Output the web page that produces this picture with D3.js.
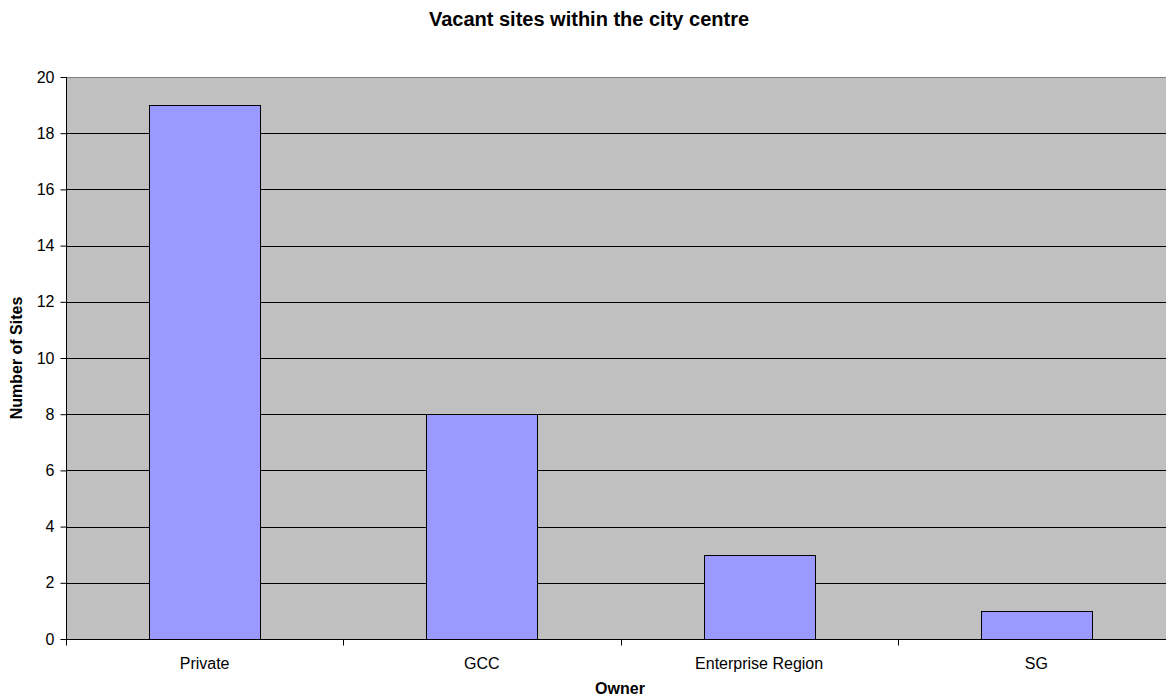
<!DOCTYPE html>
<html>
<head>
<meta charset="utf-8">
<script src="https://cdn.jsdelivr.net/npm/d3@7"></script>
<style>
  html, body { margin: 0; padding: 0; background: #fff; }
  svg { display: block; font-family: Arial, "Liberation Sans", sans-serif; }
</style>
</head>
<body>
<svg id="chart" width="1166" height="698"></svg>
<script>
// Vacant sites by owner
const owners = ["Private", "GCC", "Enterprise Region", "SG"];
const siteCounts = [19, 8, 3, 1];
const yTicks = [0, 2, 4, 6, 8, 10, 12, 14, 16, 18, 20];

const svg = d3.select("#chart");
const plot = { left: 66, right: 1175, top: 77, bottom: 639 };

const x = d3.scaleBand().domain(owners).range([plot.left, plot.right]).paddingInner(0.6).paddingOuter(0.3);
const xTickScale = d3.scaleBand().domain(owners).range([plot.left, plot.right]);
const y = d3.scaleLinear().domain([0, 20]).range([plot.bottom, plot.top]);

// Plot background
svg.append("rect")
  .attr("x", plot.left).attr("y", plot.top)
  .attr("width", plot.right - plot.left).attr("height", plot.bottom - plot.top)
  .attr("fill", "#c0c0c0");

// Top border of plot area
svg.append("line")
  .attr("x1", plot.left).attr("x2", plot.right)
  .attr("y1", plot.top + 0.5).attr("y2", plot.top + 0.5)
  .attr("stroke", "#808080");

// Horizontal gridlines
svg.append("g").selectAll("line")
  .data(yTicks.filter(d => d > 0 && d < 20))
  .join("line")
  .attr("x1", plot.left).attr("x2", plot.right)
  .attr("y1", d => Math.round(y(d)) + 0.5).attr("y2", d => Math.round(y(d)) + 0.5)
  .attr("stroke", "#000");

// Bars
svg.append("g").selectAll("rect")
  .data(owners.map((o, i) => ({ owner: o, value: siteCounts[i] })))
  .join("rect")
  .attr("x", d => Math.round(x(d.owner)) + 0.5)
  .attr("y", d => Math.round(y(d.value)) + 0.5)
  .attr("width", Math.round(x.bandwidth()))
  .attr("height", d => Math.round(y(0)) - Math.round(y(d.value)))
  .attr("fill", "#9999ff")
  .attr("stroke", "#000")
  .attr("stroke-width", 1);

// Y axis
const yAxis = svg.append("g")
  .attr("transform", `translate(${plot.left + 0.5},0)`)
  .call(d3.axisLeft(y).tickValues(yTicks).tickSize(6).tickPadding(6).tickFormat(d3.format("d")));
yAxis.select(".domain").attr("stroke", "#000").attr("d", `M0,${plot.top}V${plot.bottom}`);
yAxis.selectAll(".tick line").attr("stroke", "#000");
yAxis.selectAll("text").attr("font-size", 16).attr("fill", "#000")
  .attr("font-family", "Arial, 'Liberation Sans', sans-serif");

// X axis
const xAxis = svg.append("g")
  .attr("transform", `translate(0,${plot.bottom + 0.5})`);
xAxis.append("line")
  .attr("x1", plot.left).attr("x2", plot.right)
  .attr("stroke", "#000");
xAxis.selectAll(".xtick")
  .data(owners)
  .join("line")
  .attr("class", "xtick")
  .attr("x1", d => Math.round(xTickScale(d)) + 0.5).attr("x2", d => Math.round(xTickScale(d)) + 0.5)
  .attr("y1", 0).attr("y2", 6)
  .attr("stroke", "#000");
xAxis.selectAll("text")
  .data(owners)
  .join("text")
  .attr("x", d => xTickScale(d) + xTickScale.bandwidth() / 2)
  .attr("y", 29)
  .attr("text-anchor", "middle")
  .attr("font-size", 16)
  .text(d => d);

// Title
svg.append("text")
  .attr("x", 589).attr("y", 26)
  .attr("text-anchor", "middle")
  .attr("font-size", 20).attr("font-weight", "bold")
  .text("Vacant sites within the city centre");

// Axis titles
svg.append("text")
  .attr("x", 620).attr("y", 694)
  .attr("text-anchor", "middle")
  .attr("font-size", 16).attr("font-weight", "bold")
  .text("Owner");

svg.append("text")
  .attr("transform", `translate(22,${(plot.top + plot.bottom) / 2}) rotate(-90)`)
  .attr("text-anchor", "middle")
  .attr("font-size", 16).attr("font-weight", "bold")
  .text("Number of Sites");
</script>
</body>
</html>
